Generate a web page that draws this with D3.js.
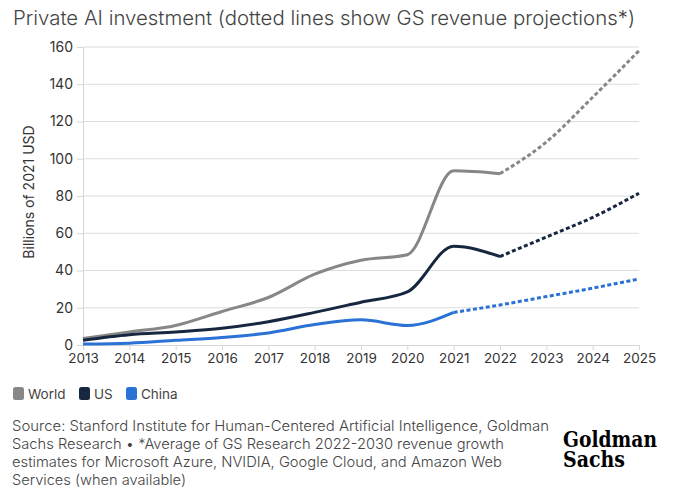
<!DOCTYPE html>
<html><head><meta charset="utf-8">
<script src="https://cdn.jsdelivr.net/npm/d3@7"></script>
<style>
html,body{margin:0;padding:0;background:#fff;}
svg{display:block;}
text{font-family:Inter,"Open Sans",sans-serif;}
</style></head>
<body><svg id="c" width="674" height="497"></svg>
<script>
const years = [2013,2014,2015,2016,2017,2018,2019,2020,2021,2022,2023,2024,2025];
const yTicks = [0,20,40,60,80,100,120,140,160];
const world = [3.5,7,10.5,18,25.5,38,45.5,48.5,93.5,92,109,133,158];
const us    = [2.5,5.5,7,9,12.5,17.5,23,28.5,53,47.5,58,68.5,81.5];
const china = [0.5,1,2.5,4,6.5,11,13.5,10.5,17.5,21.5,26,30.5,35.5];
const seriesNames = ["World","US","China"];
const seriesColors = ["#878787","#172740","#2a72d5"];
const projStart = [2022,2022,2021];

const svg = d3.select("#c");
const x = d3.scaleLinear().domain([2013,2025]).range([83,639]);
const y = d3.scaleLinear().domain([0,160]).range([345,47]);

svg.append("text").attr("x",13).attr("y",25).attr("font-size",20).attr("fill","#444").attr("font-weight",300)
  .attr("textLength",622).attr("lengthAdjust","spacingAndGlyphs")
  .text("Private AI investment (dotted lines show GS revenue projections*)");

// grid
svg.append("g").selectAll("line").data(yTicks.filter(d=>d>0)).join("line")
  .attr("x1",83).attr("x2",639).attr("y1",d=>y(d)).attr("y2",d=>y(d))
  .attr("stroke","#dcdcdc").attr("stroke-width",1);

const yAxis = svg.append("g").attr("transform","translate(83,0)")
  .call(d3.axisLeft(y).tickValues(yTicks).tickSize(6).tickPadding(4));
yAxis.select(".domain").attr("stroke","#d6d6d6");
yAxis.selectAll(".tick line").attr("stroke","#d6d6d6");
yAxis.selectAll("text").attr("font-size",14).attr("fill","#333").style("font-family","Inter,sans-serif");

const xAxis = svg.append("g").attr("transform","translate(0,345)")
  .call(d3.axisBottom(x).tickValues(years).tickFormat(d3.format("d")).tickSize(5).tickPadding(3));
xAxis.select(".domain").attr("stroke","#d6d6d6");
xAxis.selectAll(".tick line").attr("stroke","#d6d6d6");
xAxis.selectAll("text").attr("font-size",13.5).attr("fill","#333").style("font-family","Inter,sans-serif");

svg.append("text").attr("transform","translate(34,192) rotate(-90)").attr("text-anchor","middle")
  .attr("font-size",14).attr("fill","#333").text("Billions of 2021 USD");

const data = [world,us,china];
const line = d3.line().x(d=>x(d[0])).y(d=>y(d[1])).curve(d3.curveMonotoneX);
data.forEach((vals,i)=>{
  const pts = years.map((yr,j)=>[yr,vals[j]]);
  const solid = pts.filter(p=>p[0]<=projStart[i]);
  const proj = pts.filter(p=>p[0]>=projStart[i]);
  svg.append("path").attr("d",line(solid)).attr("fill","none").attr("stroke",seriesColors[i]).attr("stroke-width",3);
  svg.append("path").attr("d",line(proj)).attr("fill","none").attr("stroke",seriesColors[i]).attr("stroke-width",3)
    .attr("stroke-dasharray","4,2.5");
});

// legend
const legX = [13,79,126];
seriesNames.forEach((n,i)=>{
  svg.append("rect").attr("x",legX[i]).attr("y",387).attr("width",11).attr("height",13).attr("rx",2.5)
    .attr("fill",seriesColors[i]);
  svg.append("text").attr("x",legX[i]+15).attr("y",398.5).attr("font-size",13.5).attr("fill","#444").text(n);
});

const src = ["Source: Stanford Institute for Human-Centered Artificial Intelligence, Goldman",
 "Sachs Research • *Average of GS Research 2022-2030 revenue growth",
 "estimates for Microsoft Azure, NVIDIA, Google Cloud, and Amazon Web",
 "Services (when available)"];
const srcW = [537,492,490,174];
src.forEach((t,i)=>svg.append("text").attr("x",12).attr("y",431+i*18).attr("font-size",14.5).attr("fill","#444").attr("font-weight",300)
  .attr("textLength",srcW[i]).attr("lengthAdjust","spacingAndGlyphs").text(t));

const logo = svg.append("text").attr("font-size",22).attr("font-weight","bold")
  .style("font-family","'DejaVu Serif','Liberation Serif',serif").attr("fill","#000");
logo.append("tspan").attr("x",563).attr("y",447).attr("textLength",94).attr("lengthAdjust","spacingAndGlyphs").text("Goldman");
logo.append("tspan").attr("x",563).attr("y",467).attr("textLength",62).attr("lengthAdjust","spacingAndGlyphs").text("Sachs");
</script></body></html>
